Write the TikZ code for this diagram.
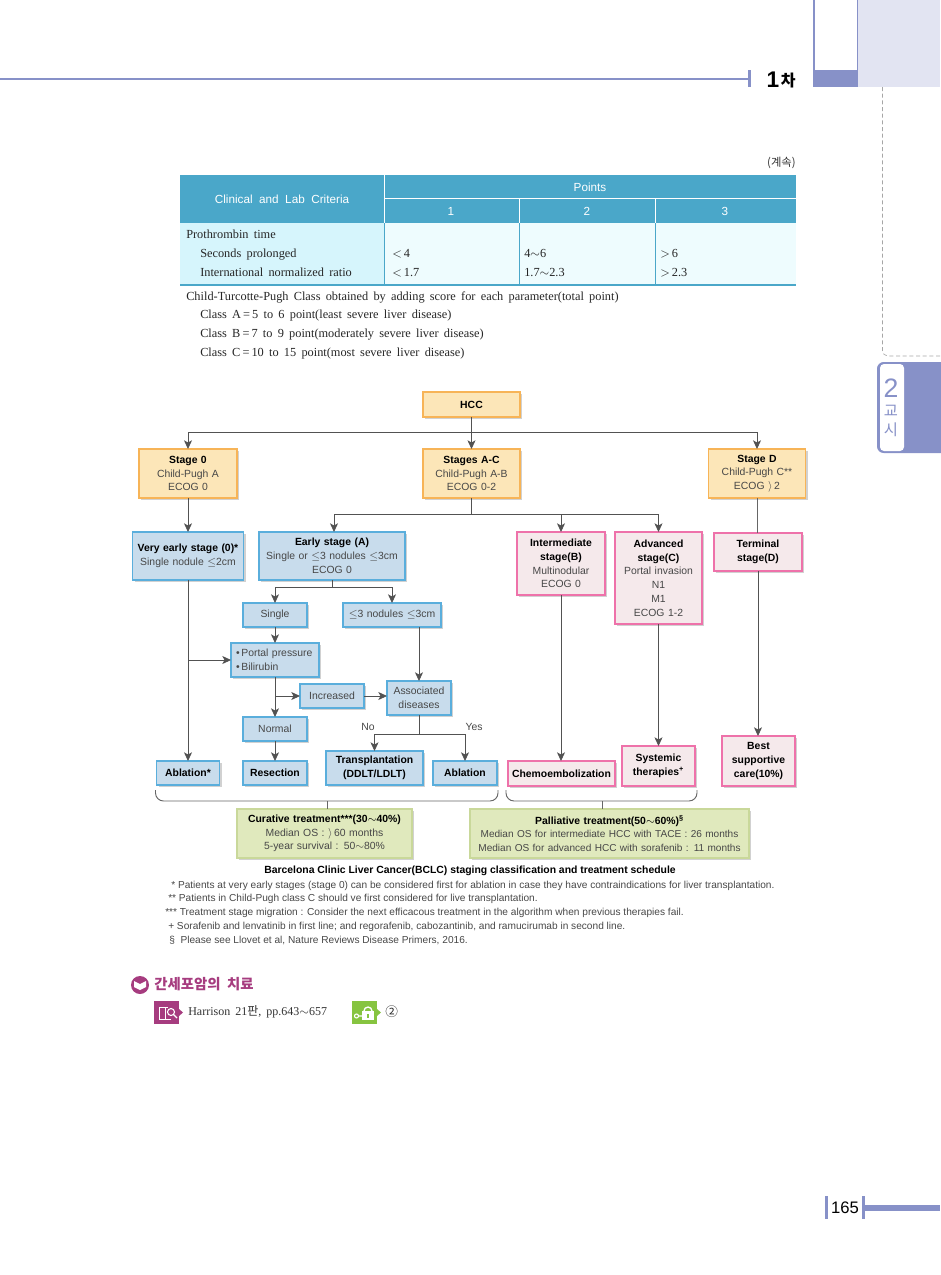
\documentclass[tikz,border=0pt]{standalone}
\usepackage{fontspec}
\setmainfont{Liberation Sans}
\newfontfamily\tabfont[WordSpace=1.7]{Liberation Serif}
\newfontfamily\krfont{Noto Sans CJK KR}
\usetikzlibrary{arrows.meta,shadows}
\definecolor{PageBlue}{HTML}{8791C8}
\definecolor{PageLight}{HTML}{E2E4F2}
\definecolor{OrangeFill}{HTML}{FCE6B8}
\definecolor{OrangeLine}{HTML}{F7B457}
\definecolor{BlueFill}{HTML}{C8DCEC}
\definecolor{BlueLine}{HTML}{5AAEDC}
\definecolor{PinkFill}{HTML}{F5E9EB}
\definecolor{PinkLine}{HTML}{EE72AA}
\definecolor{GreenFill}{HTML}{E0E9BD}
\definecolor{GreenLine}{HTML}{C9D89A}
\definecolor{HeadCyan}{HTML}{4AA7C9}
\definecolor{CellCyan}{HTML}{D6F5FC}
\definecolor{CellPale}{HTML}{EEFCFE}
\definecolor{Plum}{HTML}{A63C7F}
\definecolor{KeyGreen}{HTML}{86C440}
\newcommand{\BoxFont}{\fontsize{7.8}{10.3}\selectfont}
\newcommand{\BoxHead}[1]{\textcolor{black}{\textbf{#1}}}

\begin{document}
\begin{tikzpicture}[
            x=0.75pt, y=-0.75pt,
            FlowBox/.style={draw, line width=0.85pt, outer sep=0pt, inner sep=1pt, align=center, text=black!72, font=\BoxFont,
                drop shadow={shadow xshift=1.5pt, shadow yshift=-1.5pt, fill=black!18, opacity=1}},
            Size/.style 2 args={minimum width=#1*0.75pt, minimum height=#2*0.75pt, text width=#1*0.75pt-3pt},
            StageBox/.style={FlowBox, fill=OrangeFill, draw=OrangeLine},
            CureBox/.style={FlowBox, fill=BlueFill, draw=BlueLine},
            CareBox/.style={FlowBox, fill=PinkFill, draw=PinkLine},
            SumBox/.style={FlowBox, fill=GreenFill, draw=GreenLine},
            Flow/.style={draw=black!68, line width=0.65pt, -{Stealth[length=6.5pt, width=6pt, inset=1.6pt]}},
            Link/.style={draw=black!60, line width=0.7pt},
            TabText/.style={anchor=base west, inner sep=0pt, text=black!85, font={\tabfont\fontsize{9.25}{10}\selectfont}},
            TabHead/.style={inner sep=0pt, text=white, font=\fontsize{8.8}{10}\selectfont},
            NoteText/.style={anchor=base west, inner sep=0pt, text=black!72, font=\fontsize{7.6}{10}\selectfont},
            ]
            \useasboundingbox (0,0) rectangle (940,1275);

            % page furniture
            \fill[PageLight] (858,0) rectangle (940,87);
            \fill[PageBlue] (813,70) rectangle (858,87);
            \fill[PageBlue] (813,0) rectangle (815,70);
            \fill[PageBlue] (856.5,0) rectangle (858,70);
            \fill[PageBlue] (0,77.5) rectangle (750,79.5);
            \fill[PageBlue] (748,70) rectangle (751,87);
            \node[inner sep=0pt, font=\fontsize{17}{17}\selectfont\bfseries] (chaNum) at (773,79.5) {1};
            \node[inner sep=0pt, font=\krfont\fontsize{12}{12}\selectfont\bfseries, anchor=west] (chaWord) at (780.5,81) {차};
            \draw[black!35, densely dashed, line width=0.5pt, rounded corners=4pt] (882.5,87) -- (882.5,356) -- (940,356);
            \fill[PageBlue, rounded corners=5pt] (877,362) rectangle (950,453);
            \fill[white, rounded corners=3pt] (880,364) rectangle (904,451);
            \node[inner sep=0pt, text=PageBlue, font=\fontsize{20}{20}\selectfont] (tabNum) at (891,388) {2};
            \node[inner sep=0pt, text=PageBlue, font=\krfont\fontsize{11.5}{12}\selectfont] (tabOne) at (891,411) {교};
            \node[inner sep=0pt, text=PageBlue, font=\krfont\fontsize{11.5}{12}\selectfont] (tabTwo) at (891,430) {시};
            \fill[PageBlue] (825,1196) rectangle (828,1219);
            \fill[PageBlue] (862,1196) rectangle (865,1219);
            \fill[PageBlue] (865,1205) rectangle (940,1211);
            \node[inner sep=0pt, font=\fontsize{12.5}{13}\selectfont] (pageNum) at (845,1207.5) {165};

            % criteria table
            \node[inner sep=0pt, anchor=east, text=black!80, font=\krfont\fontsize{8.5}{10}\selectfont] (cont) at (796,163) {(계속)};
            \fill[HeadCyan] (180,175) rectangle (796,223);
            \fill[CellCyan] (180,223) rectangle (384,285);
            \fill[CellPale] (384,223) rectangle (796,285);
            \draw[white, line width=0.6pt] (384,175) -- (384,223) (384,198) -- (796,198) (519,198) -- (519,223) (655,198) -- (655,223);
            \draw[HeadCyan, line width=0.6pt] (384,223) -- (384,285) (519,223) -- (519,285) (655,223) -- (655,285);
            \draw[HeadCyan, line width=0.9pt] (180,285) -- (796,285);
            \node[TabHead] (critHead) at (282,199) {Clinical\ \ and\ \ Lab\ \ Criteria};
            \node[TabHead] (ptHead) at (590,187) {Points};
            \node[TabHead] (ptOne) at (451,211) {1};
            \node[TabHead] (ptTwo) at (587,211) {2};
            \node[TabHead] (ptThree) at (725,211) {3};
            \node[TabText] (rowPt) at (186,238.5) {Prothrombin time};
            \node[TabText] (rowSec) at (200,257.5) {Seconds prolonged};
            \node[TabText] (rowInr) at (200,276) {International normalized ratio};
            \node[TabText] (secOne) at (392,257.5) {${<}$\,4};
            \node[TabText] (secTwo) at (524,257.5) {4$\sim$6};
            \node[TabText] (secThree) at (660,257.5) {${>}$\,6};
            \node[TabText] (inrOne) at (392,276) {${<}$\,1.7};
            \node[TabText] (inrTwo) at (524,276) {1.7$\sim$2.3};
            \node[TabText] (inrThree) at (660,276) {${>}$\,2.3};
            \node[TabText] (ctpHead) at (186,300) {Child-Turcotte-Pugh Class obtained by adding score for each parameter(total point)};
            \node[TabText] (ctpA) at (200,318.5) {Class A\,=\,5 to 6 point(least severe liver disease)};
            \node[TabText] (ctpB) at (200,337) {Class B\,=\,7 to 9 point(moderately severe liver disease)};
            \node[TabText] (ctpC) at (200,356) {Class C\,=\,10 to 15 point(most severe liver disease)};

            % BCLC flow
            \node[StageBox, Size={97}{25}] (hcc) at (471.5,404.5) {\BoxHead{HCC}};
            \node[StageBox, Size={98}{49}] (stage0) at (188,473.5) {\BoxHead{Stage 0}\\Child-Pugh A\\ECOG 0};
            \node[StageBox, Size={97}{49}] (stageAC) at (471.5,473.5) {\BoxHead{Stages A-C}\\Child-Pugh A-B\\ECOG 0-2};
            \node[StageBox, Size={97}{49}] (stageD) at (757,473.5) {\BoxHead{Stage D}\\Child-Pugh C**\\ECOG $\rangle$\,2};

            \node[CureBox, Size={111}{48}] (veryearly) at (188,556) {\BoxHead{Very early stage (0)*}\\Single nodule $\leq$2cm};
            \node[CureBox, Size={146}{48}] (early) at (332,556) {\BoxHead{Early stage (A)}\\Single or $\leq$3 nodules $\leq$3cm\\ECOG 0};
            \node[CureBox, Size={64}{24}] (single) at (275,615) {Single};
            \node[CureBox, Size={98}{24}] (nodules) at (392,615) {$\leq$3 nodules $\leq$3cm};
            \node[CureBox, Size={88}{34}, align=left, text width=78*0.75pt] (portal) at (275,660) {\textbullet\,Portal pressure\\\textbullet\,Bilirubin};
            \node[CureBox, Size={64}{24}] (increased) at (332,696) {Increased};
            \node[CureBox, Size={64}{34}] (assoc) at (419,698) {Associated\\diseases};
            \node[CureBox, Size={64}{24}] (normal) at (275,729) {Normal};
            \node[CureBox, Size={63}{24}] (ablationA) at (188,773) {\BoxHead{Ablation*}};
            \node[CureBox, Size={64}{24}] (resection) at (275,773) {\BoxHead{Resection}};
            \node[CureBox, Size={97}{34}] (transplant) at (374.5,768) {\BoxHead{Transplantation}\\\BoxHead{(DDLT/LDLT)}};
            \node[CureBox, Size={64}{24}] (ablationB) at (465,773) {\BoxHead{Ablation}};

            \node[CareBox, Size={88}{63}] (intermediate) at (561,563.5) {\BoxHead{Intermediate}\\\BoxHead{stage(B)}\\Multinodular\\ECOG 0};
            \node[CareBox, Size={87}{92}] (advanced) at (658.5,578) {\BoxHead{Advanced}\\\BoxHead{stage(C)}\\Portal invasion\\N1\\M1\\ECOG 1-2};
            \node[CareBox, Size={88}{38}] (terminal) at (758,552) {\BoxHead{Terminal}\\\BoxHead{stage(D)}};
            \node[CareBox, Size={107}{25}] (chemo) at (561.5,773.5) {\BoxHead{Chemoembolization}};
            \node[CareBox, Size={73}{40}] (systemic) at (658.5,766) {\BoxHead{Systemic}\\\BoxHead{therapies\textsuperscript{+}}};
            \node[CareBox, Size={73}{50}] (best) at (758.5,761) {\BoxHead{Best}\\\BoxHead{supportive}\\\BoxHead{care(10\%)}};

            \node[SumBox, Size={175}{49}] (curative) at (324.5,833.5) {\BoxHead{Curative treatment***(30$\sim$40\%)}\\Median OS : $\rangle$\,60 months\\5-year survival : 50$\sim$80\%};
            \node[SumBox, Size={279}{49}, font=\fontsize{7.55}{10.3}\selectfont] (palliative) at (609.5,833.5) {\BoxHead{\fontsize{7.8}{10.3}\selectfont Palliative treatment(50$\sim$60\%)\textsuperscript{\S}}\\Median OS for intermediate HCC with TACE : 26 months\\Median OS for advanced HCC with sorafenib : 11 months};

            \draw[Flow] (hcc.south) -- (stageAC.north);
            \draw[Flow] (hcc.south) -- ++(0,15) -| (stage0.north);
            \draw[Flow] (hcc.south) -- ++(0,15) -| (stageD.north);
            \draw[Flow] (stage0.south) -- (veryearly.north);
            \draw[Flow] (stageAC.south) -- ++(0,16) -| ([xshift=1.5pt]early.north);
            \draw[Flow] (stageAC.south) -- ++(0,16) -| (intermediate.north);
            \draw[Flow] (stageAC.south) -- ++(0,16) -| (advanced.north);
            \draw[Link] (stageD.south) -- (terminal.north -| stageD.south);
            \draw[Flow] (early.south) -- ++(0,7.5) -| (single.north);
            \draw[Flow] (early.south) -- ++(0,7.5) -| (nodules.north);
            \draw[Flow] (single.south) -- (portal.north);
            \draw[Flow] (nodules.south -| assoc.north) -- (assoc.north);
            \draw[Flow] (veryearly.south) -- (ablationA.north);
            \draw[Flow] (veryearly.south |- portal.west) -- (portal.west);
            \draw[Flow] (portal.south) -- (normal.north);
            \draw[Flow] (portal.south |- increased.west) -- (increased.west);
            \draw[Flow] (increased.east) -- (assoc.west |- increased.east);
            \draw[Flow] (normal.south) -- (resection.north);
            \draw[Flow] (assoc.south) -- ++(0,19) -| (transplant.north);
            \draw[Flow] (assoc.south) -- ++(0,19) -| (ablationB.north);
            \draw[Flow] (intermediate.south) -- (chemo.north -| intermediate.south);
            \draw[Flow] (advanced.south) -- (systemic.north);
            \draw[Flow] (terminal.south) -- (best.north -| terminal.south);
            \node[inner sep=0pt, text=black!72, font=\BoxFont] (noLabel) at (368,727) {No};
            \node[inner sep=0pt, text=black!72, font=\BoxFont] (yesLabel) at (474,727) {Yes};

            \coordinate (cureTick) at (327,801);
            \coordinate (careTick) at (602,801);
            \draw[Link, rounded corners=6pt] (155.5,790) -- (155.5,801) -- (498,801) -- (498,790);
            \draw[Link, rounded corners=6pt] (506,790) -- (506,801) -- (697,801) -- (697,790);
            \draw[Link] (cureTick) -- (curative.north -| cureTick);
            \draw[Link] (careTick) -- (palliative.north -| careTick);

            % notes under the flow
            \node[inner sep=0pt, font=\BoxFont\bfseries] (caption) at (470,871) {Barcelona Clinic Liver Cancer(BCLC) staging classification and treatment schedule};
            \node[NoteText] (noteA) at (171,888) {* Patients at very early stages (stage 0) can be considered first for ablation in case they have contraindications for liver transplantation.};
            \node[NoteText] (noteB) at (168,901.5) {** Patients in Child-Pugh class C should ve first considered for live transplantation.};
            \node[NoteText] (noteC) at (165,915) {*** Treatment stage migration : Consider the next efficacous treatment in the algorithm when previous therapies fail.};
            \node[NoteText] (noteD) at (168,929) {+ Sorafenib and lenvatinib in first line; and regorafenib, cabozantinib, and ramucirumab in second line.};
            \node[NoteText] (noteE) at (169,943) {§ \ Please see Llovet et al, Nature Reviews Disease Primers, 2016.};

            % reference line
            \fill[Plum] (140,985) circle (9);
            \fill[white] (140,990) -- (134,987) -- (134,981) -- (140,984) -- (146,981) -- (146,987) -- cycle;
            \node[inner sep=0pt, anchor=west, text=Plum, font=\krfont\fontsize{10.8}{12}\selectfont\bfseries] (refHead) at (154,984) {간세포암의\ \ 치료};
            \fill[Plum] (154,1001) rectangle (179,1024);
            \fill[Plum] (179,1009) -- (183,1012.5) -- (179,1016) -- cycle;
            \draw[white, line width=0.7pt] (168,1007) -- (159,1007) -- (159,1019) -- (171,1019) (165,1007) -- (165,1019);
            \draw[white, line width=0.8pt] (171,1012) circle (3.5);
            \draw[white, line width=1pt] (173.5,1014.5) -- (177,1018);
            \node[inner sep=0pt, anchor=west, text=black!80, font=\tabfont\fontsize{9}{10}\selectfont] (refBook) at (188,1012) {Harrison 21{\krfont 판}, pp.643$\sim$657};
            \fill[KeyGreen] (352,1001) rectangle (377,1024);
            \fill[KeyGreen] (377,1009) -- (381,1012.5) -- (377,1016) -- cycle;
            \draw[white, line width=1pt] (364,1011) arc[start angle=180, end angle=360, radius=4] -- (372,1012);
            \fill[white] (362,1011) rectangle (374,1020);
            \fill[KeyGreen] (367,1014) rectangle (369,1018);
            \draw[white, line width=0.8pt] (356.5,1016) circle (2) (358.5,1016) -- (362,1016);
            \node[inner sep=0pt, anchor=west, text=black!85, font=\krfont\fontsize{9.5}{10}\selectfont] (refKey) at (385,1012) {②};
        \end{tikzpicture}
\end{document}
